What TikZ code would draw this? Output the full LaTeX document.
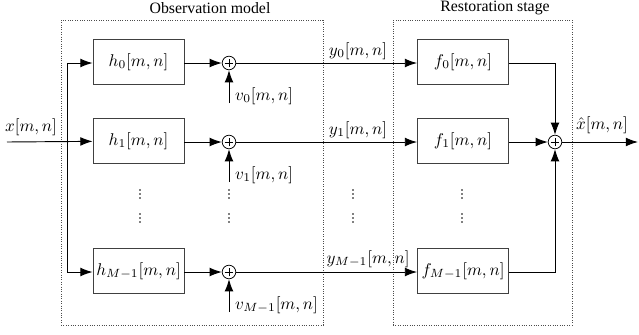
\documentclass[tikz,border=0pt]{standalone}
\usepackage[no-math]{fontspec}
\setmainfont{Liberation Serif}
\usetikzlibrary{arrows.meta}
\tikzset{
  blk/.style={draw=black!75, line width=0.55pt, minimum width=53.5pt, minimum height=27pt, inner sep=0pt},
  sumnode/.style={circle, draw=black, line width=0.45pt, minimum size=8pt, inner sep=0pt,
    path picture={\draw[line width=0.3pt] ([xshift=-2.6pt]path picture bounding box.center) -- ([xshift=2.6pt]path picture bounding box.center);
                  \draw[line width=0.3pt] ([yshift=-2.6pt]path picture bounding box.center) -- ([yshift=2.6pt]path picture bounding box.center);}},
  arr/.style={-{Latex[length=7.2pt,width=5.2pt]}, line width=0.55pt},
  wire/.style={line width=0.55pt},
  grp/.style={draw=black!70, densely dotted, line width=0.4pt, inner sep=0pt},
  ttl/.style={font=\fontsize{9.3}{11}\selectfont},
  dot/.style={circle, fill=black, inner sep=0pt, minimum size=1.1pt}
}
\begin{document}
\begin{tikzpicture}[x=0.588pt,y=-0.588pt,font=\fontsize{10}{12}\selectfont]
\useasboundingbox (0,0) rectangle (639,334);
% group frames
\node[grp, minimum width=154pt, minimum height=179.3pt] (obs) at (192,172.5) {};
\node[grp, minimum width=105.2pt, minimum height=179.3pt] (res) at (482.5,172.5) {};
\node[ttl] (t1) at (210,8) {Observation model};
\node[ttl] (t2) at (495,8) {Restoration stage};
% blocks
\node[blk] (h0) at (138.5,62) {$h_0[m,n]$};
\node[blk] (h1) at (138.5,141) {$h_1[m,n]$};
\node[blk] (hM) at (138.5,271) {$h_{M-1}[m,n]$};
\node[blk] (f0) at (463,62) {$f_0[m,n]$};
\node[blk] (f1) at (463,141) {$f_1[m,n]$};
\node[blk] (fM) at (463,271) {$f_{M-1}[m,n]$};
% sums
\node[sumnode] (s0) at (229,63) {};
\node[sumnode] (s1) at (229,142) {};
\node[sumnode] (sM) at (229,272) {};
\node[sumnode] (so) at (555,142) {};
% coordinates
\coordinate (in) at (7,142);
\coordinate (split) at (67,142);
\coordinate (out) at (638,142);
\coordinate (v0) at (229,103);
\coordinate (v1) at (229,182);
\coordinate (vM) at (229,312);
% input distribution
\draw[arr] (in) -- (h1);
\draw[wire] (split |- s0) -- (split |- sM);
\draw[arr] (split |- s0) -- (s0 -| h0.west);
\draw[arr] (split |- sM) -- (sM -| hM.west);
% filters to sums
\draw[arr] (h0.east |- s0) -- (s0);
\draw[arr] (h1.east |- s1) -- (s1);
\draw[arr] (hM.east |- sM) -- (sM);
% noise
\draw[arr] (v0) -- (s0);
\draw[arr] (v1) -- (s1);
\draw[arr] (vM) -- (sM);
% sums to restoration
\draw[arr] (s0) -- (s0 -| f0.west);
\draw[arr] (s1) -- (s1 -| f1.west);
\draw[arr] (sM) -- (sM -| fM.west);
% restoration to output sum
\draw[arr] (f0.east |- s0) -| (so);
\draw[arr] (f1.east |- s1) -- (so);
\draw[arr] (fM.east |- sM) -| (so);
\draw[arr] (so) -- (out);
% labels
\node (lx) at (31,127) {$x[m,n]$};
\node (lxh) at (602,125) {$\hat{x}[m,n]$};
\node[anchor=west] (lv0) at (229,96) {$v_0[m,n]$};
\node[anchor=west] (lv1) at (229,175) {$v_1[m,n]$};
\node[anchor=west] (lvM) at (229,305) {$v_{M-1}[m,n]$};
\node (ly0) at (358,51) {$y_0[m,n]$};
\node (ly1) at (358,130) {$y_1[m,n]$};
\node (lyM) at (368,259) {$y_{M-1}[m,n]$};
% dots
\foreach \c/\xx in {a/140,b/229,c/353,d/462}{
  \foreach \k/\yy in {1/190,2/194,3/198,4/214,5/218,6/222}{
    \node[dot] (d\c\k) at (\xx,\yy) {};
  }
}
\end{tikzpicture}
\end{document}
